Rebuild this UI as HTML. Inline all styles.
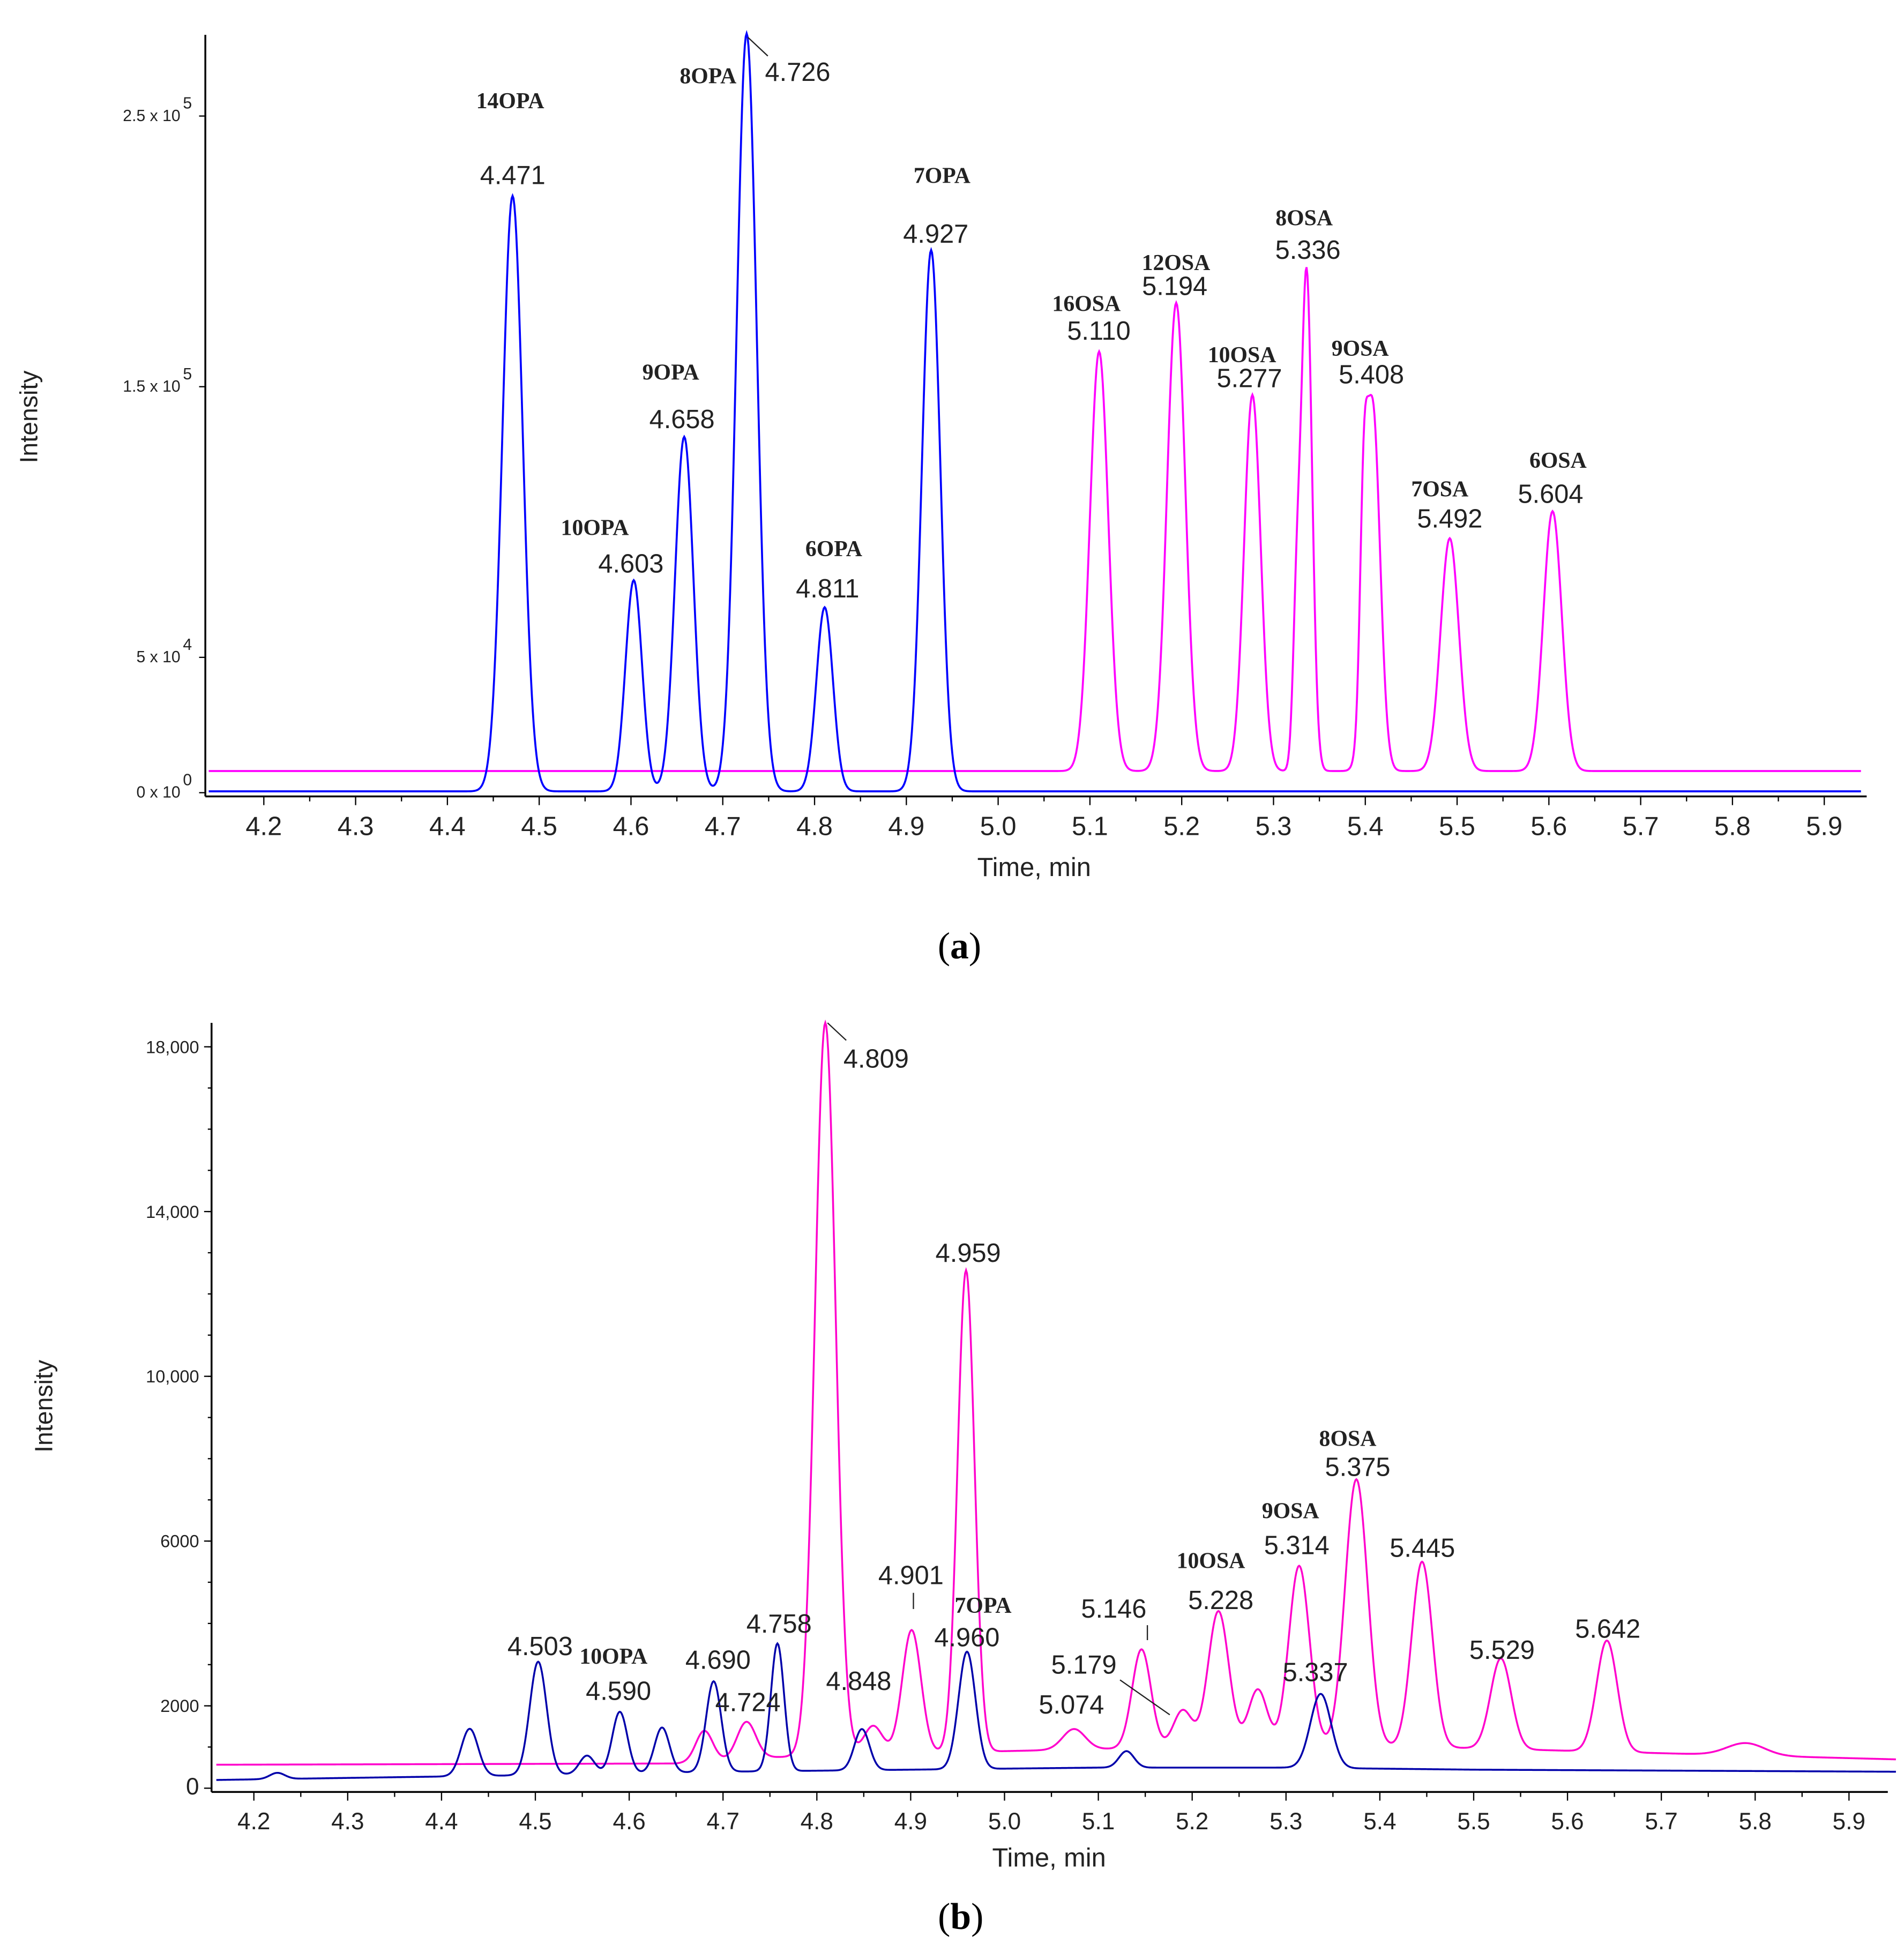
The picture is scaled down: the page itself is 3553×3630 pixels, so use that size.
<!DOCTYPE html>
<html><head><meta charset="utf-8"><style>
html,body{margin:0;padding:0;background:#fff}
svg{display:block}
text{font-family:"Liberation Sans",sans-serif}
.n{font-size:21px;fill:#222}
.c{font-family:"Liberation Serif",serif;font-weight:bold;font-size:18px;fill:#222}
.yl{font-size:13px;fill:#222}
</style></head><body>
<svg id="svg" width="3553" height="3630" viewBox="0 0 1530 1563" preserveAspectRatio="none" xmlns="http://www.w3.org/2000/svg">
<g id="ga"></g>
<g id="gb"></g>
<g text-anchor="middle">
<text class="c" x="410" y="87">14OPA</text><text class="n" x="412" y="148">4.471</text>
<text class="c" x="569" y="67">8OPA</text><text class="n" x="641" y="65">4.726</text>
<line x1="601" y1="30" x2="617" y2="45" stroke="#222" stroke-width="1"/>
<text class="c" x="539" y="305">9OPA</text><text class="n" x="548" y="344">4.658</text>
<text class="c" x="478" y="430">10OPA</text><text class="n" x="507" y="460">4.603</text>
<text class="c" x="670" y="447">6OPA</text><text class="n" x="665" y="480">4.811</text>
<text class="c" x="757" y="147">7OPA</text><text class="n" x="752" y="195">4.927</text>
<text class="c" x="873" y="250">16OSA</text><text class="n" x="883" y="273">5.110</text>
<text class="c" x="945" y="217">12OSA</text><text class="n" x="944" y="237">5.194</text>
<text class="c" x="998" y="291">10OSA</text><text class="n" x="1004" y="311">5.277</text>
<text class="c" x="1048" y="181">8OSA</text><text class="n" x="1051" y="208">5.336</text>
<text class="c" x="1093" y="286">9OSA</text><text class="n" x="1102" y="308">5.408</text>
<text class="c" x="1157" y="399">7OSA</text><text class="n" x="1165" y="424">5.492</text>
<text class="c" x="1252" y="376">6OSA</text><text class="n" x="1246" y="404">5.604</text>
<text class="n" x="831" y="704">Time, min</text>
<text transform="translate(30,335) rotate(-90)" class="n" style="font-size:20px">Intensity</text>
<text x="771" y="770" style="font-family:'Liberation Serif',serif;font-size:30px">(<tspan font-weight="bold">a</tspan>)</text>
</g>
<g text-anchor="middle">
<text class="n" x="704" y="858">4.809</text>
<line x1="665" y1="822" x2="680" y2="836" stroke="#222" stroke-width="1"/>
<text class="n" x="778" y="1014">4.959</text>
<text class="n" x="732" y="1273">4.901</text><line x1="734" y1="1280" x2="734" y2="1293" stroke="#222"/>
<text class="c" x="790" y="1296">7OPA</text><text class="n" x="777" y="1323">4.960</text>
<text class="n" x="895" y="1300">5.146</text><line x1="922" y1="1306" x2="922" y2="1318" stroke="#222"/>
<text class="n" x="871" y="1345">5.179</text><line x1="900" y1="1350" x2="940" y2="1378" stroke="#222"/>
<text class="n" x="861" y="1377">5.074</text>
<text class="c" x="973" y="1260">10OSA</text><text class="n" x="981" y="1293">5.228</text>
<text class="c" x="1037" y="1220">9OSA</text><text class="n" x="1042" y="1249">5.314</text>
<text class="c" x="1083" y="1162">8OSA</text><text class="n" x="1091" y="1186">5.375</text>
<text class="n" x="1143" y="1251">5.445</text><text class="n" x="1057" y="1351">5.337</text>
<text class="n" x="1207" y="1333">5.529</text><text class="n" x="1292" y="1316">5.642</text>
<text class="n" x="434" y="1330">4.503</text><text class="c" x="493" y="1337">10OPA</text>
<text class="n" x="497" y="1366">4.590</text><text class="n" x="577" y="1341">4.690</text>
<text class="n" x="626" y="1312">4.758</text><text class="n" x="601" y="1375">4.724</text>
<text class="n" x="690" y="1358">4.848</text>
<text class="n" x="843" y="1500">Time, min</text>
<text transform="translate(42,1130) rotate(-90)" class="n" style="font-size:20px">Intensity</text>
<text x="772" y="1550" style="font-family:'Liberation Serif',serif;font-size:30px">(<tspan font-weight="bold">b</tspan>)</text>
</g>
</svg>
<script>
// Panel A data (intensity units of 1e5)
const aBluePeaks=[4.471,4.603,4.658,4.726,4.811,4.927];
const aBlueHeights=[2.2,0.78,1.31,2.8,0.68,2.0];
const aBlueWidths=[0.011,0.009,0.010,0.011,0.009,0.010];
const aMagPeaks=[5.110,5.194,5.277,5.325,5.336,5.398,5.408,5.492,5.604];
const aMagHeights=[1.55,1.73,1.39,0.5,1.85,0.6,1.35,0.86,0.96];
const aMagWidths=[0.010,0.010,0.009,0.004,0.006,0.004,0.008,0.010,0.010];
const aMagBase=0.08;
const aXTicks=[4.2,4.3,4.4,4.5,4.6,4.7,4.8,4.9,5.0,5.1,5.2,5.3,5.4,5.5,5.6,5.7,5.8,5.9];
const aYTicks=[0,0.5,1.5,2.5];
const aYTickLabels=[["0 x 10","0"],["5 x 10","4"],["1.5 x 10","5"],["2.5 x 10","5"]];
// Panel B data (intensity counts)
const bBluePeaks=[4.225,4.43,4.503,4.555,4.59,4.635,4.69,4.758,4.848,4.96,5.13,5.337];
const bBlueHeights=[150,1150,2750,450,1500,1100,2200,3100,1000,2850,400,1800];
const bBlueWidths=[0.008,0.009,0.009,0.008,0.008,0.008,0.008,0.007,0.008,0.009,0.008,0.011];
const bBlueBaseX=[4.16,4.3,4.45,4.7,4.9,5.1,5.3,5.5,5.95];
const bBlueBaseY=[200,250,300,400,450,500,500,450,400];
const bMagPeaks=[4.68,4.725,4.809,4.86,4.901,4.959,5.074,5.146,5.19,5.228,5.27,5.314,5.375,5.445,5.529,5.642,5.79];
const bMagHeights=[750,900,17800,700,3000,11700,500,2400,900,3300,1400,4400,6500,4500,2200,2700,300];
const bMagWidths=[0.009,0.01,0.011,0.01,0.01,0.009,0.012,0.01,0.01,0.011,0.01,0.011,0.012,0.011,0.011,0.011,0.02];
const bMagBaseX=[4.16,4.65,4.75,5.0,5.2,5.45,5.7,5.95];
const bMagBaseY=[570,600,750,900,1000,1000,850,700];
const bXTicks=[4.2,4.3,4.4,4.5,4.6,4.7,4.8,4.9,5.0,5.1,5.2,5.3,5.4,5.5,5.6,5.7,5.8,5.9];
const bYTicks=[0,2000,6000,10000,14000,18000];
const bYTickLabels=["0","2000","6000","10,000","14,000","18,000"];

const NS="http://www.w3.org/2000/svg";
function mk(p,tag,at){const e=document.createElementNS(NS,tag);for(const k in at)e.setAttribute(k,at[k]);p.appendChild(e);return e;}
function interp(xs,ys,x){if(x<=xs[0])return ys[0];for(let i=1;i<xs.length;i++){if(x<=xs[i]){const t=(x-xs[i-1])/(xs[i]-xs[i-1]);return ys[i-1]+t*(ys[i]-ys[i-1]);}}return ys[ys.length-1];}
function sig(t,c,h,w,base){let v=base(t);for(let i=0;i<c.length;i++){const d=(t-c[i])/w[i];v+=h[i]*Math.exp(-0.5*d*d);}return v;}
function pathOf(x0,x1,fx,fy,f){let d="";for(let t=x0;t<=x1+1e-9;t+=0.001){d+=(d?"L":"M")+fx(t).toFixed(2)+","+fy(f(t)).toFixed(2);}return d;}

// Panel A
const ga=document.getElementById('ga');
const axA=t=>212+(t-4.2)*737.6, ayA=v=>637-v*217.5;
mk(ga,'line',{x1:165,y1:28,x2:165,y2:640,stroke:'#000','stroke-width':1.5,});
mk(ga,'line',{x1:165,y1:640,x2:1500,y2:640,stroke:'#000','stroke-width':1.5,});
aXTicks.forEach(t=>{const x=axA(t);
 mk(ga,'line',{x1:x,y1:640,x2:x,y2:647,stroke:'#000'});
 const tx=mk(ga,'text',{x:x,y:671,'text-anchor':'middle',class:'n'});tx.textContent=t.toFixed(1);
 
 
 const xm=axA(t+0.05);if(xm<1500)mk(ga,'line',{x1:xm,y1:640,x2:xm,y2:644,stroke:'#000'});});
aYTicks.forEach((v,i)=>{const y=ayA(v);
 mk(ga,'line',{x1:160,y1:y,x2:165,y2:y,stroke:'#000'});
 const tx=mk(ga,'text',{x:145,y:y+4,'text-anchor':'end',class:'yl'});tx.textContent=aYTickLabels[i][0];
 
 
 const s=mk(ga,'text',{x:147,y:y-6,class:'yl'});s.textContent=aYTickLabels[i][1];});
const pa1=mk(ga,'path',{d:pathOf(4.14,5.94,axA,ayA,t=>sig(t,aMagPeaks,aMagHeights,aMagWidths,()=>aMagBase)),fill:'none',stroke:'#ff00ff','stroke-width':1.6});


const pa2=mk(ga,'path',{d:pathOf(4.14,5.94,axA,ayA,t=>sig(t,aBluePeaks,aBlueHeights,aBlueWidths,()=>0.005)),fill:'none',stroke:'#0000ff','stroke-width':1.6});



// Panel B
const gb=document.getElementById('gb');
const axB=t=>204+(t-4.2)*754, ayB=v=>1437-v*0.0331;
mk(gb,'line',{x1:170,y1:822,x2:170,y2:1440,stroke:'#000','stroke-width':1.5,});
mk(gb,'line',{x1:170,y1:1440,x2:1517,y2:1440,stroke:'#000','stroke-width':1.5,});
bXTicks.forEach(t=>{const x=axB(t);
 mk(gb,'line',{x1:x,y1:1440,x2:x,y2:1447,stroke:'#000'});
 const tx=mk(gb,'text',{x:x,y:1470,'text-anchor':'middle',class:'n',style:'font-size:19px'});tx.textContent=t.toFixed(1);
 
 
 const xm=axB(t+0.05);if(xm<1517)mk(gb,'line',{x1:xm,y1:1440,x2:xm,y2:1444,stroke:'#000'});});
for(let v=1000;v<=19000;v+=1000){const y=ayB(v);if(y>822)mk(gb,'line',{x1:167,y1:y,x2:170,y2:y,stroke:'#000'});}
bYTicks.forEach((v,i)=>{const y=ayB(v);
 mk(gb,'line',{x1:164,y1:y,x2:170,y2:y,stroke:'#000'});
 const tx=mk(gb,'text',{x:160,y:y+5,'text-anchor':'end',class:'yl',style:i==0?'font-size:19px':'font-size:14px'});tx.textContent=bYTickLabels[i];
 
 });
const pb1=mk(gb,'path',{d:pathOf(4.16,5.95,axB,ayB,t=>sig(t,bMagPeaks,bMagHeights,bMagWidths,x=>interp(bMagBaseX,bMagBaseY,x))),fill:'none',stroke:'#ff00cc','stroke-width':1.5});


const pb2=mk(gb,'path',{d:pathOf(4.16,5.95,axB,ayB,t=>sig(t,bBluePeaks,bBlueHeights,bBlueWidths,x=>interp(bBlueBaseX,bBlueBaseY,x))),fill:'none',stroke:'#0000aa','stroke-width':1.5});


</script>
</body></html>
